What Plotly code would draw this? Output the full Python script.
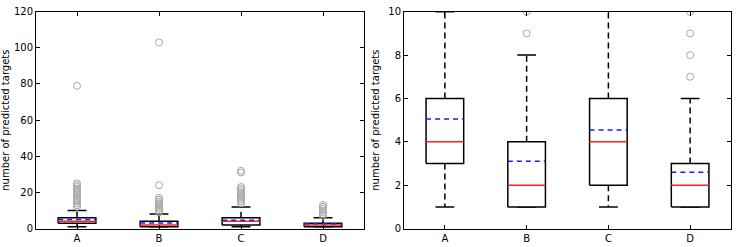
import plotly.graph_objects as go

# ---- data ----
categories = ["A", "B", "C", "D"]
q1 = [3, 1, 2, 1]
medians = [4, 2, 4, 2]
q3 = [6, 4, 6, 3]
whisker_low = [1, 1, 1, 1]
whisker_high = [10, 8, 12, 6]
means = [5.05, 3.1, 4.55, 2.6]
outliers_A = [12, 13, 14, 15, 16, 17, 18, 19, 20, 21, 22, 23, 24, 25, 79]
outliers_B = [9, 10, 11, 12, 13, 14, 15, 16, 17, 24, 103]
outliers_C = [14, 15, 16, 17, 18, 19, 20, 21, 22, 23, 31, 32]
outliers_D = [7, 8, 9, 10, 11, 12, 13]
outliers = [outliers_A, outliers_B, outliers_C, outliers_D]

left_yticks = [0, 20, 40, 60, 80, 100, 120]
right_yticks = [0, 2, 4, 6, 8, 10]
y_title = "number of predicted targets"

BOX_HALF = 0.23
CAP_HALF = 0.115

positions = [i + 1 for i in range(len(categories))]


def build_traces(xref, yref):
    bx, by, wx, wy, cx, cy, mx, my, ax_, ay, ox, oy = ([] for _ in range(12))
    for i, p in enumerate(positions):
        bx += [p - BOX_HALF, p + BOX_HALF, p + BOX_HALF, p - BOX_HALF, p - BOX_HALF, None]
        by += [q1[i], q1[i], q3[i], q3[i], q1[i], None]
        wx += [p, p, None, p, p, None]
        wy += [q3[i], whisker_high[i], None, q1[i], whisker_low[i], None]
        cx += [p - CAP_HALF, p + CAP_HALF, None, p - CAP_HALF, p + CAP_HALF, None]
        cy += [whisker_high[i], whisker_high[i], None, whisker_low[i], whisker_low[i], None]
        mx += [p - BOX_HALF, p + BOX_HALF, None]
        my += [medians[i], medians[i], None]
        ax_ += [p - BOX_HALF, p + BOX_HALF, None]
        ay += [means[i], means[i], None]
        ox += [p] * len(outliers[i])
        oy += outliers[i]
    common = dict(xaxis=xref, yaxis=yref, showlegend=False, hoverinfo="skip", cliponaxis=True)
    return [
        go.Scatter(x=wx, y=wy, mode="lines", line=dict(color="black", width=1.5, dash="6px,4px"), **common),
        go.Scatter(x=cx, y=cy, mode="lines", line=dict(color="black", width=1.5), **common),
        go.Scatter(x=bx, y=by, mode="lines", line=dict(color="black", width=1.5), fill="toself",
                   fillcolor="white", **common),
        go.Scatter(x=mx, y=my, mode="lines", line=dict(color="#ff2020", width=1.5), **common),
        go.Scatter(x=ax_, y=ay, mode="lines", line=dict(color="#1a1aff", width=1.5, dash="5px,4px"), **common),
        go.Scatter(x=ox, y=oy, mode="markers",
                   marker=dict(symbol="circle-open", size=7, color="#a8a8a8", line=dict(width=1)), **common),
    ]


fig = go.Figure()
for t in build_traces("x", "y") + build_traces("x2", "y2"):
    fig.add_trace(t)

W, H = 737, 247


def px_x(a, b):
    return [a / W, b / W]


top_px, bottom_px = 7, 233
dom_y = [(H - bottom_px) / H, (H - top_px) / H]

axis_common = dict(
    showline=True, linecolor="black", linewidth=1, mirror="ticks",
    ticks="inside", ticklen=4, tickcolor="black", tickwidth=1,
    showgrid=False, zeroline=False,
    tickfont=dict(family="DejaVu Sans", size=10, color="black"),
)

fig.update_layout(
    width=W, height=H,
    margin=dict(l=0, r=0, t=0, b=0),
    paper_bgcolor="white", plot_bgcolor="white",
    xaxis=dict(domain=px_x(36, 364), range=[0.5, 4.5], tickvals=positions,
               ticktext=categories, anchor="y", **axis_common),
    yaxis=dict(domain=dom_y, range=[0, 120], tickvals=left_yticks, anchor="x",
               title=dict(text=y_title, font=dict(family="DejaVu Sans", size=10, color="black"), standoff=6),
               **axis_common),
    xaxis2=dict(domain=px_x(404, 731), range=[0.5, 4.5], tickvals=positions,
                ticktext=categories, anchor="y2", **axis_common),
    yaxis2=dict(domain=dom_y, range=[0, 10], tickvals=right_yticks, anchor="x2",
                title=dict(text=y_title, font=dict(family="DejaVu Sans", size=10, color="black"), standoff=6),
                **axis_common),
)

fig.write_html(
    "out.html",
    config={"displayModeBar": False, "responsive": False},
    post_script=(
        "document.body.style.margin='0';"
        "document.body.style.overflow='hidden';"
        "document.documentElement.style.overflow='hidden';"
    ),
)
